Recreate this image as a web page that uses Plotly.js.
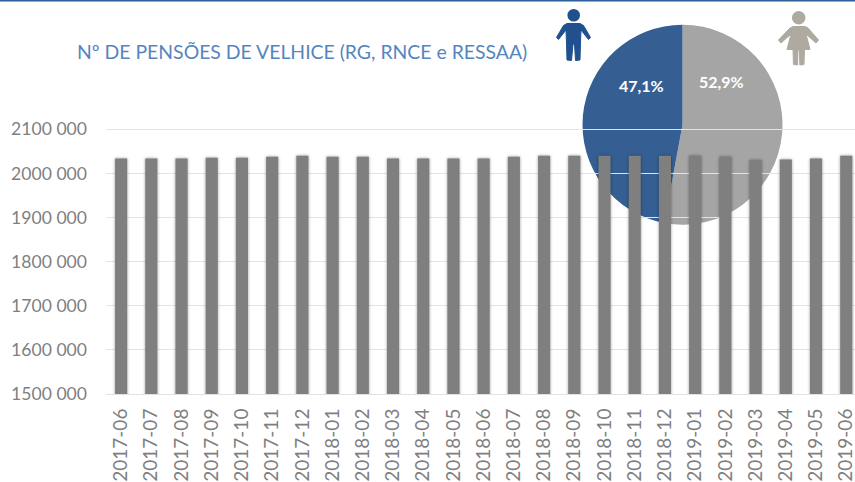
<!DOCTYPE html>
<html>
<head>
<meta charset="utf-8">
<script src="https://cdn.plot.ly/plotly-3.0.1.min.js"></script>
<style>
html,body{margin:0;padding:0;background:#fff;overflow:hidden}
#pieLayer,#barLayer{position:absolute;left:0;top:0;width:855px;height:482px}
#barLayer .barlayer .point path{filter:drop-shadow(0 0 1.5px rgba(0,0,0,.4))}
</style>
</head>
<body>
<div id="pieLayer"></div>
<div id="barLayer"></div>
<script>
const months = ["2017-06","2017-07","2017-08","2017-09","2017-10","2017-11","2017-12",
  "2018-01","2018-02","2018-03","2018-04","2018-05","2018-06","2018-07","2018-08","2018-09","2018-10","2018-11","2018-12",
  "2019-01","2019-02","2019-03","2019-04","2019-05","2019-06"];
const pensions = [2033900,2033900,2033900,2035400,2035400,2037700,2040000,2037700,
  2037700,2033900,2033900,2033900,2033900,2037700,2040000,2040000,2039800,2040000,2040000,
  2040000,2037700,2030100,2031600,2033900,2040000];
const yTickVals = [1500000,1600000,1700000,1800000,1900000,2000000,2100000];
const yTickText = ["1500 000","1600 000","1700 000","1800 000","1900 000","2000 000","2100 000"];
const genderLabels = ["Mulheres","Homens"];
const genderShares = [52.9,47.1];
const genderColors = ["#A5A5A5","#355F93"];
const chartTitle = "Nº DE PENSÕES DE VELHICE (RG, RNCE e RESSAA)";

const W = 855, H = 482;
const px = (x,y) => (x/W).toFixed(5)+" "+(1-y/H).toFixed(5);
const poly = pts => "M "+pts.map(p=>px(p[0],p[1])).join(" L ")+" Z";
const circle = (cx,cy,r,c) => ({type:"circle",xref:"paper",yref:"paper",x0:(cx-r)/W,x1:(cx+r)/W,y0:1-(cy+r)/H,y1:1-(cy-r)/H,fillcolor:c,line:{width:0}});
const icon = (pts,c) => ({type:"path",xref:"paper",yref:"paper",path:poly(pts),fillcolor:c,line:{color:c,width:1}});

const manColor = "#21508F", womanColor = "#AEAAA0";
const manShape = [[567,23.5],[580,23.5],[583.5,25.5],[590.5,37.5],[588.5,39.5],[581,30],[580.5,43],[580,60],[575.5,60.5],[574.5,44],[573,44],[571.5,60.5],[567,60],[566.5,43],[566,30],[558.5,39.5],[556.5,37.5],[563.5,25.5]];
const womanShape = [[793,26.5],[805,26.5],[808,28],[818.5,40],[816,43],[806,34],[810,49.5],[804.5,49.5],[804,64.5],[799.8,65],[799.5,50],[798,50],[797.5,65],[793.5,64.5],[793,49.5],[787,49.5],[791,34],[781,43],[778.5,40],[790,28]];

const fmtShare = v => v.toFixed(1).replace(".",",")+"%";

Plotly.newPlot("pieLayer",[{
  type:"pie",
  labels:genderLabels,
  values:genderShares,
  sort:false,
  direction:"clockwise",
  rotation:0,
  textinfo:"none",
  hoverinfo:"skip",
  marker:{colors:genderColors,line:{width:0}},
  domain:{x:[582.5/W,782.5/W],y:[1-224.7/H,1-24.7/H]}
}],{
  width:W,height:H,margin:{l:0,r:0,t:0,b:0},showlegend:false,
  paper_bgcolor:"#ffffff",
  shapes:[
    {type:"rect",xref:"paper",yref:"paper",x0:0,x1:1,y0:1-1.5/H,y1:1,fillcolor:"#2E5F95",line:{width:0}},
    circle(573.7,15.3,6.3,manColor),
    icon(manShape,manColor),
    circle(798.7,17.7,6.8,womanColor),
    icon(womanShape,womanColor)
  ],
  annotations:[
    {xref:"paper",yref:"paper",x:721.5/W,y:1-81.5/H,xanchor:"center",yanchor:"middle",text:fmtShare(genderShares[0]),showarrow:false,font:{family:"Lato",size:16,color:"#fff",weight:700}},
    {xref:"paper",yref:"paper",x:641.5/W,y:1-85/H,xanchor:"center",yanchor:"middle",text:fmtShare(genderShares[1]),showarrow:false,font:{family:"Lato",size:16,color:"#fff",weight:700}}
  ]
},{staticPlot:true,displayModeBar:false});

Plotly.newPlot("barLayer",[{
  type:"bar",
  x:months,
  y:pensions,
  marker:{color:"#7F7F7F",line:{width:0}},
  hoverinfo:"skip"
}],{
  width:W,height:H,
  margin:{l:106.4,r:0,t:127.29,b:87.5},
  paper_bgcolor:"rgba(0,0,0,0)",
  plot_bgcolor:"rgba(0,0,0,0)",
  showlegend:false,
  bargap:0.6,
  title:{text:chartTitle,font:{family:"Lato",size:19.4,color:"#5585C0"},x:77/W,xanchor:"left",xref:"container",y:1-52/H,yanchor:"middle"},
  xaxis:{
    type:"category",range:[-0.5,24.29],tickangle:-90,ticklabelstandoff:6,
    tickfont:{family:"Lato",size:19,color:"#7F7F7F"},
    showline:true,linecolor:"#E2E2E2",linewidth:1,showgrid:false,ticks:"",ticklen:0,automargin:false
  },
  yaxis:{
    range:[1500000,2105000],tickmode:"array",tickvals:yTickVals,ticktext:yTickText,ticklabelstandoff:18,
    tickfont:{family:"Lato",size:17.6,color:"#7F7F7F"},
    gridcolor:"#E4E4E4",gridwidth:1,zeroline:false,showline:false,ticks:"",automargin:false
  }
},{staticPlot:true,displayModeBar:false});
</script>
</body>
</html>
